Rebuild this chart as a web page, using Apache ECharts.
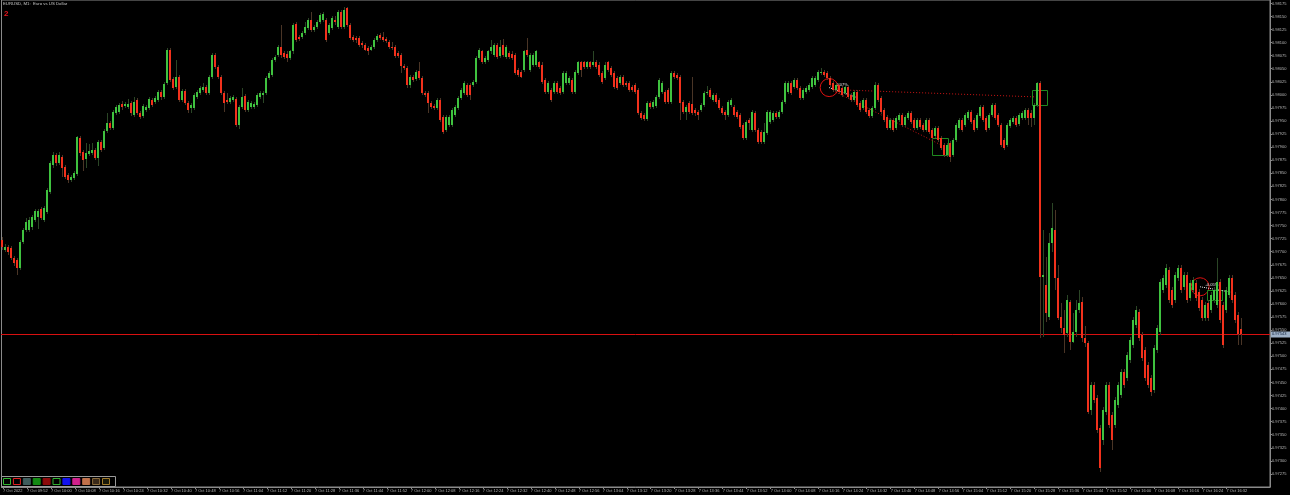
<!DOCTYPE html>
<html>
<head>
<meta charset="utf-8">
<title>EURUSD M1</title>
<script src="https://cdn.jsdelivr.net/npm/echarts@6/dist/echarts.min.js"></script>
<style>
html, body { margin: 0; padding: 0; background: #000; }
#chart { width: 1290px; height: 495px; }
</style>
</head>
<body>
<div id="chart"></div>
<script>
// EURUSD, M1 - 7 Oct 2022, one bar per minute from 09:44
// each bar: [open, close, low, high] in points (1 point = 0.00001)
var startMinute = 9 * 60 + 44;
var slotCount = 423; // bars + empty chart shift on the right
var ohlc = [
  [97723,97709,97704,97729],[97704,97709,97700,97715],[97709,97700,97694,97713],[97708,97688,97685,97711],[97688,97679,97673,97692],[97685,97669,97656,97688],[97669,97719,97665,97723],[97719,97742,97715,97746],[97742,97757,97738,97765],[97742,97761,97738,97767],
  [97748,97767,97742,97771],[97761,97778,97757,97782],[97767,97778,97744,97782],[97782,97765,97761,97786],[97761,97784,97757,97788],[97776,97819,97773,97822],[97815,97870,97811,97874],[97866,97885,97860,97891],[97885,97870,97864,97889],[97870,97885,97866,97891],
  [97882,97861,97843,97885],[97863,97843,97840,97866],[97847,97838,97832,97851],[97838,97843,97834,97847],[97841,97851,97838,97855],[97849,97920,97845,97922],[97918,97889,97884,97922],[97891,97876,97855,97895],[97878,97889,97861,97908],[97887,97893,97884,97907],
  [97889,97895,97885,97908],[97895,97880,97876,97899],[97880,97910,97864,97914],[97910,97895,97891,97914],[97899,97931,97895,97935],[97931,97947,97928,97966],[97947,97937,97933,97951],[97937,97968,97933,97972],[97966,97977,97962,97981],[97968,97981,97964,97985],
  [97983,97977,97972,97989],[97979,97983,97975,97987],[97977,97983,97973,97993],[97985,97966,97960,97989],[97962,97987,97958,97996],[97991,97966,97962,97995],[97966,97958,97954,97970],[97960,97979,97956,97983],[97972,97977,97968,97981],[97975,97993,97972,97996],
  [97991,97981,97977,97995],[97987,97995,97983,97998],[97991,98006,97987,98010],[98006,97996,97991,98010],[97996,98021,97993,98025],[98023,98086,98019,98090],[98086,98029,98025,98090],[98031,98014,98010,98035],[98016,98035,98012,98067],[98035,97991,97987,98039],
  [97991,98008,97987,98012],[98008,97985,97981,98012],[97985,97972,97966,97989],[97975,97981,97966,97985],[97975,98000,97972,98004],[97996,98006,97993,98010],[98004,98014,98000,98017],[98010,98016,98006,98023],[98016,98004,98000,98019],[98004,98035,98000,98039],
  [98035,98077,98031,98081],[98077,98054,98050,98081],[98054,98035,98031,98058],[98035,98004,98000,98039],[98004,97985,97968,98008],[97991,97987,97983,98004],[97987,97995,97983,97998],[97991,97996,97987,98000],[97993,97943,97939,97996],[97943,97977,97935,97981],
  [97977,97996,97973,98014],[97998,97972,97968,98002],[97972,97987,97968,97991],[97977,97985,97973,97989],[97977,97983,97973,97987],[97981,98000,97977,98004],[97996,98004,97993,98008],[98000,98004,97985,98008],[98004,98033,98000,98037],[98033,98042,98029,98046],
  [98039,98067,98035,98071],[98067,98073,98063,98077],[98077,98092,98073,98096],[98092,98077,98071,98134],[98081,98073,98069,98084],[98079,98071,98062,98083],[98071,98083,98067,98086],[98083,98134,98079,98138],[98136,98105,98102,98140],[98111,98107,98104,98115],
  [98111,98119,98107,98123],[98119,98130,98115,98140],[98128,98144,98124,98148],[98144,98124,98121,98159],[98124,98130,98121,98134],[98130,98140,98126,98144],[98140,98153,98136,98157],[98144,98155,98140,98159],[98144,98105,98102,98148],[98119,98134,98115,98138],
  [98128,98148,98124,98151],[98144,98140,98134,98150],[98130,98159,98126,98163],[98159,98130,98126,98163],[98130,98163,98126,98169],[98167,98134,98130,98169],[98134,98109,98105,98138],[98111,98105,98102,98115],[98109,98105,98100,98113],[98109,98096,98092,98113],
  [98100,98096,98090,98104],[98096,98086,98083,98100],[98090,98083,98077,98094],[98086,98092,98083,98096],[98092,98105,98088,98109],[98105,98113,98102,98117],[98115,98109,98105,98119],[98111,98105,98102,98121],[98107,98104,98100,98111],[98102,98092,98088,98105],
  [98092,98090,98086,98102],[98092,98075,98071,98096],[98081,98075,98071,98084],[98077,98056,98042,98081],[98056,98052,98048,98060],[98052,98018,98014,98056],[98018,98035,98014,98039],[98035,98029,98025,98039],[98031,98044,98027,98048],[98046,98033,98029,98063],
  [98033,98004,98000,98037],[98004,98000,97996,98008],[98004,97985,97966,98008],[97985,97977,97973,97989],[97979,97975,97972,97983],[97975,97991,97972,97995],[97991,97952,97949,97995],[97958,97929,97926,97962],[97933,97958,97929,97962],[97943,97958,97939,97962],
  [97943,97972,97939,97975],[97962,97977,97958,97981],[97975,97995,97972,97998],[97995,98010,97991,98014],[98004,98023,98000,98027],[98019,98000,97996,98023],[98019,98000,97991,98023],[98019,98025,98016,98029],[98025,98071,98021,98075],[98071,98086,98067,98090],
  [98083,98063,98060,98086],[98063,98071,98060,98075],[98067,98083,98063,98086],[98083,98092,98079,98105],[98077,98096,98073,98100],[98096,98073,98069,98100],[98075,98092,98071,98105],[98096,98077,98073,98107],[98073,98092,98069,98096],[98081,98073,98069,98084],
  [98079,98071,98067,98083],[98077,98042,98039,98081],[98048,98039,98035,98052],[98044,98035,98033,98048],[98048,98083,98044,98086],[98086,98077,98073,98109],[98048,98077,98044,98081],[98058,98077,98054,98081],[98058,98083,98054,98086],[98062,98054,98050,98065],
  [98058,98025,98021,98062],[98029,98006,98002,98033],[98006,98023,98002,98027],[98010,97991,97987,98014],[98006,98023,98002,98027],[98023,98006,98002,98027],[98014,98004,98000,98017],[98006,98042,98002,98046],[98023,98042,98019,98046],[98023,98033,98019,98037],
  [98029,98006,98002,98033],[98006,98044,98002,98048],[98042,98062,98039,98065],[98062,98048,98035,98065],[98062,98054,98050,98065],[98054,98062,98050,98065],[98062,98054,98050,98065],[98058,98063,98054,98083],[98063,98054,98050,98067],[98058,98039,98035,98062],
  [98042,98025,98021,98046],[98033,98058,98029,98062],[98062,98048,98044,98065],[98052,98039,98035,98056],[98042,98016,98012,98046],[98033,98014,98010,98037],[98023,98035,98019,98039],[98035,98019,98016,98039],[98023,98019,98016,98027],[98023,98010,98006,98027],
  [98016,98010,98006,98019],[98019,98006,98002,98023],[98010,97966,97962,98014],[97966,97956,97952,97970],[97962,97954,97951,97966],[97954,97985,97951,97989],[97985,97977,97973,97989],[97977,97987,97973,97991],[97979,97996,97975,98000],[97996,98029,97993,98033],
  [98006,98023,98002,98027],[98006,97987,97983,98010],[98010,97987,97983,98014],[97987,98042,97983,98046],[98042,98035,98031,98046],[98039,98033,98029,98042],[98035,97985,97952,98039],[97987,97968,97964,97991],[97968,97977,97952,97981],[97985,97968,97964,97989],
  [97983,97966,97962,98035],[97972,97966,97960,97975],[97968,97962,97952,97972],[97972,97981,97968,97985],[97981,98004,97977,98008],[98004,98006,98000,98017],[98010,97996,97993,98014],[97991,98000,97987,98004],[98000,97987,97983,98004],[97991,97975,97972,97995],
  [97975,97966,97962,97979],[97968,97962,97952,97972],[97962,97987,97958,97991],[97981,97991,97977,97995],[97977,97962,97958,97981],[97968,97958,97954,97972],[97962,97939,97935,97966],[97943,97918,97914,97947],[97918,97949,97914,97952],[97952,97947,97933,97956],
  [97933,97968,97929,97972],[97966,97933,97929,97970],[97933,97910,97907,97937],[97929,97910,97907,97933],[97910,97929,97907,97947],[97928,97968,97924,97972],[97949,97968,97945,97972],[97952,97966,97949,97970],[97966,97958,97954,97970],[97958,97968,97954,97972],
  [97968,97987,97964,97991],[97987,98023,97983,98027],[98006,98023,98002,98027],[98023,98004,98000,98027],[98016,98029,98012,98033],[98029,98014,98010,98033],[98014,97995,97991,98017],[97995,98010,97991,98014],[98006,98014,98002,98017],[98010,98019,98006,98023],
  [98016,98033,98012,98037],[98019,98033,98016,98037],[98029,98044,98025,98048],[98042,98044,98039,98052],[98044,98039,98035,98048],[98042,98033,98029,98046],[98033,98019,98016,98037],[98023,98010,98006,98027],[98010,98019,98006,98023],[98019,98006,98002,98023],
  [98014,98000,97996,98017],[98004,98016,98000,98019],[98016,97996,97993,98019],[98000,97991,97987,98004],[97991,98006,97987,98010],[98006,97981,97977,98010],[97985,97972,97968,97989],[97975,97991,97972,97995],[97991,97968,97964,97995],[97972,97960,97956,97975],
  [97960,97975,97956,97979],[97975,98019,97972,98025],[98019,97991,97987,98023],[97995,97968,97964,97998],[97972,97952,97949,97975],[97958,97937,97933,97962],[97937,97952,97933,97956],[97952,97933,97929,97956],[97937,97956,97933,97960],[97952,97962,97949,97966],
  [97962,97943,97939,97966],[97943,97958,97939,97962],[97956,97966,97952,97970],[97966,97949,97945,97970],[97952,97937,97933,97956],[97937,97952,97933,97956],[97952,97939,97935,97956],[97943,97933,97929,97947],[97933,97952,97929,97956],[97952,97929,97926,97956],
  [97933,97918,97914,97937],[97922,97937,97918,97941],[97937,97914,97910,97941],[97918,97899,97895,97922],[97905,97885,97882,97908],[97885,97905,97882,97908],[97908,97882,97872,97912],[97885,97914,97882,97918],[97914,97943,97910,97947],[97937,97952,97933,97956],
  [97952,97933,97929,97956],[97943,97962,97939,97966],[97956,97968,97952,97972],[97968,97949,97945,97972],[97952,97933,97929,97956],[97937,97962,97933,97966],[97960,97977,97956,97981],[97977,97952,97949,97981],[97956,97933,97929,97960],[97937,97962,97933,97966],
  [97962,97981,97958,97985],[97981,97956,97952,97985],[97962,97943,97939,97966],[97943,97905,97901,97947],[97914,97899,97895,97918],[97905,97943,97901,97947],[97941,97952,97937,97956],[97949,97956,97945,97960],[97956,97943,97939,97960],[97945,97962,97941,97966],
  [97956,97966,97952,97970],[97956,97972,97952,97975],[97972,97956,97943,97975],[97966,97956,97939,97972],[97956,97981,97943,97985],[97981,98023,97977,98025],[98023,97652,97535,98027],[97652,97656,97537,97742],[97637,97583,97566,97690],[97576,97717,97570,97736],
  [97717,97746,97700,97794],[97742,97650,97627,97780],[97650,97574,97570,97675],[97576,97555,97545,97602],[97555,97541,97507,97589],[97545,97608,97537,97618],[97604,97528,97512,97608],[97528,97547,97526,97583],[97547,97589,97537,97608],[97589,97602,97583,97627],
  [97604,97535,97528,97614],[97535,97526,97518,97557],[97526,97394,97390,97530],[97398,97445,97388,97451],[97445,97417,97411,97451],[97421,97359,97354,97426],[97363,97287,97279,97369],[97340,97398,97331,97403],[97394,97445,97388,97451],[97445,97369,97363,97451],
  [97388,97340,97321,97394],[97369,97417,97363,97422],[97407,97445,97401,97451],[97426,97470,97421,97476],[97470,97445,97440,97476],[97459,97503,97453,97509],[97493,97532,97488,97537],[97522,97570,97516,97576],[97560,97589,97555,97597],[97585,97535,97530,97591],
  [97541,97497,97491,97547],[97512,97459,97453,97518],[97484,97445,97440,97490],[97459,97432,97424,97465],[97436,97516,97430,97522],[97512,97555,97507,97560],[97547,97643,97541,97648],[97627,97650,97621,97656],[97637,97669,97631,97677],[97665,97608,97602,97671],
  [97627,97599,97593,97633],[97608,97656,97602,97662],[97650,97669,97644,97675],[97669,97627,97621,97675],[97633,97656,97627,97662],[97656,97608,97602,97662],[97612,97641,97606,97646],[97627,97646,97621,97652],[97641,97612,97606,97646],[97623,97593,97587,97629],
  [97608,97574,97568,97614],[97574,97599,97568,97604],[97602,97574,97568,97608],[97589,97618,97583,97623],[97608,97627,97602,97633],[97599,97643,97593,97688],[97643,97570,97564,97648],[97599,97522,97516,97604],[97589,97627,97583,97633],[97618,97650,97612,97656],
  [97650,97608,97602,97656],[97618,97570,97564,97623],[97579,97543,97522,97585],[97553,97543,97522,97574]
];

// price scale labels on the right
var priceTicks = [
  0.97275, 0.97300, 0.97325, 0.97350, 0.97375, 0.97400, 0.97425, 0.97450, 0.97475,
  0.97500, 0.97525, 0.97550, 0.97575, 0.97600, 0.97625, 0.97650, 0.97675, 0.97700,
  0.97725, 0.97750, 0.97775, 0.97800, 0.97825, 0.97850, 0.97875, 0.97900, 0.97925,
  0.97950, 0.97975, 0.98000, 0.98025, 0.98050, 0.98075, 0.98100, 0.98125, 0.98150, 0.98175
];
var bidPrice = 0.97543;

// drawn objects: [bar index, price]
var circles = [[275.5, 0.98014], [399.2, 0.97633]];
var boxes = [[309.8, 0.97918, 315.2, 0.97885], [343.2, 0.98010, 348.2, 0.97981], [401.5, 0.97627, 406.5, 0.97608]];
var dottedRed = [[[277.5, 0.98010], [345, 0.97996]], [[277.5, 0.98006], [312.5, 0.97905]]];
var dottedWhite = [[[275.5, 0.98014], [284.7, 0.97995]], [[399.2, 0.97633], [409.2, 0.97623]]];
var noteTexts = [[277.5, 0.98022, '-0.07%'], [401.0, 0.97641, '-0.05%']];

var bullBody = '#3fc23f', bearBody = '#f2311c';
var bullWick = '#2b4626', bearWick = '#4a3526';
var axisGrey = '#8a8a8a', textGrey = '#b8b8b8';
var tinyFont = 'Liberation Sans';

var times = [];
for (var k = 0; k < slotCount; k++) {
  var m = startMinute + k;
  var hh = Math.floor(m / 60), mm = m % 60;
  times.push((hh < 10 ? '0' : '') + hh + ':' + (mm < 10 ? '0' : '') + mm);
}
function labelled(i) { return i % 8 === 0 && i < ohlc.length; }

var bars = ohlc.map(function (b, i) {
  return [i, b[0] / 1e5, b[1] / 1e5, b[2] / 1e5, b[3] / 1e5];
});

function renderCandle(params, api) {
  var i = api.value(0);
  var o = api.value(1), c = api.value(2);
  var pO = api.coord([i, o]);
  var pC = api.coord([i, c]);
  var pL = api.coord([i, api.value(3)]);
  var pH = api.coord([i, api.value(4)]);
  var up = c >= o;
  var cx = Math.floor(pO[0]);
  var top = Math.round(Math.min(pO[1], pC[1]));
  var bot = Math.round(Math.max(pO[1], pC[1]));
  if (bot - top < 1) bot = top + 1;
  var hy = Math.round(pH[1]), ly = Math.round(pL[1]);
  return {
    type: 'group',
    children: [
      { type: 'rect', shape: { x: cx, y: hy, width: 1, height: Math.max(1, ly - hy) }, style: { fill: up ? bullWick : bearWick } },
      { type: 'rect', shape: { x: cx - 1, y: top, width: 2, height: bot - top }, style: { fill: up ? bullBody : bearBody } }
    ]
  };
}

var myChart = echarts.init(document.getElementById('chart'));
var option = {
  backgroundColor: '#000',
  animation: false,
  grid: { left: 1, right: 20, top: 0, bottom: 8, show: true, borderColor: axisGrey, borderWidth: 1 },
  xAxis: {
    type: 'category',
    data: times,
    boundaryGap: true,
    axisLine: { show: true, lineStyle: { color: axisGrey, width: 1 } },
    axisTick: {
      show: true, alignWithLabel: true, length: 2,
      interval: labelled,
      lineStyle: { color: axisGrey }
    },
    axisLabel: {
      interval: labelled,
      formatter: function (v, i) { return i === 0 ? '7 Oct 2022' : '7 Oct ' + v; },
      align: 'left', margin: 2,
      color: textGrey, fontSize: 4, fontFamily: tinyFont
    },
    splitLine: { show: false }
  },
  yAxis: {
    type: 'value',
    position: 'right',
    min: 0.9725,
    max: 0.981815,
    axisLine: { show: true, lineStyle: { color: axisGrey, width: 1 } },
    axisTick: { show: true, customValues: priceTicks, length: 2, lineStyle: { color: axisGrey } },
    axisLabel: {
      customValues: priceTicks,
      formatter: function (v) { return v.toFixed(5); },
      margin: 2, color: textGrey, fontSize: 4, fontFamily: tinyFont
    },
    splitLine: { show: false }
  },
  series: [{
    type: 'custom',
    renderItem: renderCandle,
    data: bars,
    encode: { x: 0, y: [1, 2, 3, 4] },
    clip: true
  }]
};
myChart.setOption(option);

function toPx(i, price) {
  var f = Math.floor(i);
  var x0 = myChart.convertToPixel({ xAxisIndex: 0 }, f);
  var x1 = myChart.convertToPixel({ xAxisIndex: 0 }, f + 1);
  var y = myChart.convertToPixel({ yAxisIndex: 0 }, price);
  return [x0 + (x1 - x0) * (i - f), y];
}

// title, counter and the tool palette
var graphics = [
  { type: 'text', left: 3, top: 2, style: { text: 'EURUSD, M1:  Euro vs US Dollar', fill: '#c8c8c8', font: '4.3px ' + tinyFont } },
  { type: 'text', x: 4, y: 10, style: { text: '2', fill: '#e8141c', font: 'bold 8px ' + tinyFont } },
  { type: 'rect', shape: { x: 1.5, y: 476.5, width: 114, height: 10 }, style: { fill: '#000', stroke: '#9a9a9a', lineWidth: 1 } }
];
var swatches = [
  ['#000', '#2fb52f'], ['#000', '#e02020'], ['#3e5d5d', null], ['#138a13', null], ['#8c0a0a', null],
  ['#000', '#30b030'], ['#1212ee', null], ['#d0208c', null], ['#c0704a', null], ['#3a2a1a', '#8a6a3a'], ['#1a1a0a', '#a07a2a']
];
swatches.forEach(function (s, k) {
  graphics.push({ type: 'rect', shape: { x: 3.5 + k * 9.9, y: 478.5, width: 7, height: 6 }, style: { fill: s[0], stroke: s[1] || s[0], lineWidth: 1 } });
});

// bid line and its price tag
var bidY = Math.round(toPx(0, bidPrice)[1]) + 0.5;
var gridRight = myChart.getWidth() - 20;
graphics.push({ type: 'line', shape: { x1: 1, y1: bidY, x2: gridRight, y2: bidY }, style: { stroke: '#d81010', lineWidth: 1 } });
graphics.push({ type: 'rect', shape: { x: gridRight, y: bidY - 3, width: 20, height: 6 }, style: { fill: '#9fb2c8' } });
graphics.push({ type: 'text', x: gridRight + 2, y: bidY - 2.5, style: { text: bidPrice.toFixed(5), fill: '#10203a', font: '4px ' + tinyFont } });

circles.forEach(function (c) {
  var p = toPx(c[0], c[1]);
  graphics.push({ type: 'circle', shape: { cx: p[0], cy: p[1], r: 9 }, style: { fill: 'none', stroke: '#e01010', lineWidth: 1 } });
});
boxes.forEach(function (b) {
  var a = toPx(b[0], b[1]), z = toPx(b[2], b[3]);
  graphics.push({ type: 'rect', shape: { x: Math.round(a[0]) + 0.5, y: Math.round(a[1]) + 0.5, width: Math.round(z[0] - a[0]), height: Math.round(z[1] - a[1]) }, style: { fill: 'none', stroke: '#1f8a1f', lineWidth: 1 } });
});
dottedRed.forEach(function (d) {
  var a = toPx(d[0][0], d[0][1]), z = toPx(d[1][0], d[1][1]);
  graphics.push({ type: 'line', shape: { x1: a[0], y1: a[1], x2: z[0], y2: z[1] }, style: { stroke: '#c81414', lineWidth: 1, lineDash: [1, 2] } });
});
dottedWhite.forEach(function (d) {
  var a = toPx(d[0][0], d[0][1]), z = toPx(d[1][0], d[1][1]);
  graphics.push({ type: 'line', shape: { x1: a[0], y1: a[1], x2: z[0], y2: z[1] }, style: { stroke: '#e8e8e8', lineWidth: 1, lineDash: [1, 1] } });
});
noteTexts.forEach(function (t) {
  var p = toPx(t[0], t[1]);
  graphics.push({ type: 'text', x: p[0], y: p[1], style: { text: t[2], fill: '#e0e0e0', font: '4px ' + tinyFont } });
});
myChart.setOption({ graphic: graphics });
</script>
</body>
</html>
